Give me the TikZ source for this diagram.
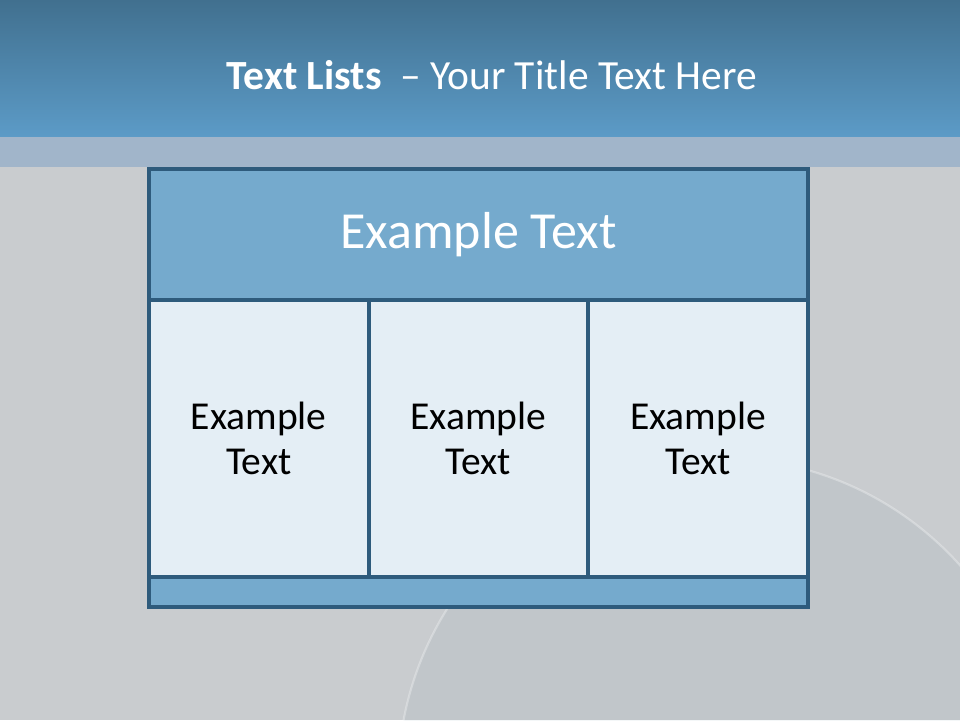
\documentclass[tikz,border=0pt]{standalone}
\usepackage{fontspec}
\setmainfont{Carlito}
\usepackage{xcolor}
\usetikzlibrary{positioning}
\definecolor{slidegray}{HTML}{C9CCCF}
\definecolor{stripblue}{HTML}{A1B5CA}
\definecolor{titletop}{HTML}{41708F}
\definecolor{titlebot}{HTML}{5C9BC7}
\definecolor{boxblue}{HTML}{2E5B7C}
\definecolor{headblue}{HTML}{75AACD}
\definecolor{cellfill}{HTML}{E4EEF5}

\tikzset{
  framed/.style={draw=boxblue, line width=2.1pt, outer sep=0pt, inner sep=0pt},
  headbox/.style={framed, fill=headblue, text=white,
    minimum width=13.18cm, minimum height=2.62cm,
    font=\fontsize{29.6}{34}\selectfont},
  cellbox/.style={framed, fill=cellfill, text=black, align=center,
    minimum width=4.393cm, minimum height=5.54cm,
    font=\fontsize{22.5}{25.5}\selectfont},
  footbar/.style={framed, fill=headblue, minimum width=13.18cm, minimum height=0.6cm},
}

\begin{document}
\begin{tikzpicture}
  \useasboundingbox (0,0) rectangle (19.2,14.4);
  \clip (0,0) rectangle (19.2,14.4);
  % backdrop
  \fill[slidegray] (0,0) rectangle (19.2,14.4);
  \fill[boxblue, opacity=0.05] (14.4,-1.2) circle (6.44);
  \draw[white, opacity=0.3, line width=1.2pt] (14.4,-1.2) circle (6.44);
  \fill[stripblue] (0,11.06) rectangle (19.2,11.66);
  \shade[top color=titletop, bottom color=titlebot] (0,11.66) rectangle (19.2,14.4);
  \node[text=white, font=\fontsize{23.6}{28}\selectfont] (title) at (9.84,12.9)
    {\textbf{Text Lists}~ – Your Title Text Here};

  % table
  \node[headbox] (head) at (9.57,9.71) {Example Text};
  \node[cellbox, below right=0pt of head.south west] (cellA) {Example\\Text};
  \node[cellbox, right=0pt of cellA] (cellB) {Example\\Text};
  \node[cellbox, right=0pt of cellB] (cellC) {Example\\Text};
  \node[footbar, below=0pt of cellB] (foot) {};
\end{tikzpicture}
\end{document}
